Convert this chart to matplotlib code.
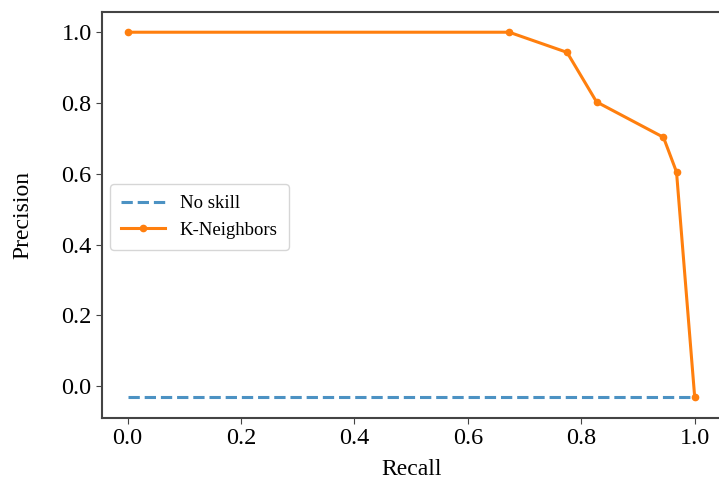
import matplotlib.pyplot as plt

# Precision-recall values.
skill_recall = [0.0, 1.0]
skill_precision = [-0.03, -0.03]
knn_recall = [0.0, 0.673, 0.775, 0.827, 0.945, 0.968, 1.0]
knn_precision = [1.0, 1.0, 0.943, 0.803, 0.703, 0.605, -0.03]
x_ticks = [0.0, 0.2, 0.4, 0.6, 0.8, 1.0]
y_ticks = [0.0, 0.2, 0.4, 0.6, 0.8, 1.0]

plt.rcParams['font.family'] = ['Liberation Serif', 'DejaVu Serif']

fig = plt.figure(figsize=(7.19, 4.82), dpi=100)
ax = fig.add_axes([0.142, 0.133, 0.862, 0.842])

ax.plot(skill_recall, skill_precision, linestyle='--', color='#1f77b4',
        alpha=0.8, linewidth=2.2, label='No skill')
ax.plot(knn_recall, knn_precision, marker='.', markersize=9,
        color='#ff7f0e', linewidth=2.2, label='K-Neighbors')

ax.set_xlim(-0.045, 1.048)
ax.set_ylim(-0.09, 1.057)
ax.set_xticks(x_ticks)
ax.set_yticks(y_ticks)
ax.tick_params(labelsize=17.5, color='#444444', length=4)
for s in ax.spines.values():
    s.set_color('#444444')
    s.set_linewidth(1.5)

ax.set_xlabel('Recall', fontsize=17, labelpad=7)
ax.set_ylabel('Precision', fontsize=17, labelpad=20)
ax.legend(loc='center left', fontsize=13.5, bbox_to_anchor=(-0.002, 0.495),
          handlelength=2.3, borderpad=0.6)

fig.savefig('out.png', dpi=100)
